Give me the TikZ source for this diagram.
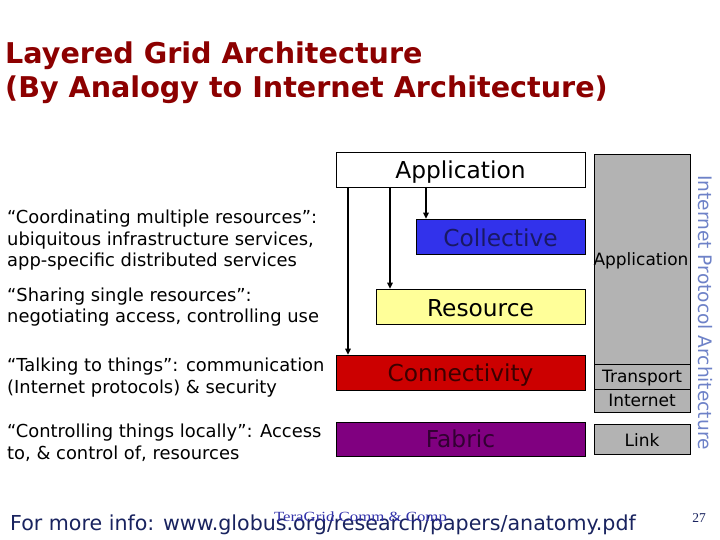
\documentclass[tikz,border=0pt]{standalone}
\usepackage{fontspec}
\setmainfont{DejaVu Sans}
\newfontfamily\serifft{Liberation Serif}
\usetikzlibrary{arrows.meta}
\definecolor{titlered}{RGB}{140,0,0}
\definecolor{colblue}{RGB}{50,50,235}
\definecolor{colbluetxt}{RGB}{25,25,100}
\definecolor{resyellow}{RGB}{255,255,153}
\definecolor{conred}{RGB}{204,0,0}
\definecolor{conredtxt}{RGB}{60,0,0}
\definecolor{fabpurple}{RGB}{128,0,128}
\definecolor{fabtxt}{RGB}{50,0,50}
\definecolor{ipgray}{RGB}{179,179,179}
\definecolor{vertblue}{RGB}{110,130,200}
\definecolor{footnavy}{RGB}{25,35,95}
\definecolor{tgblue}{RGB}{50,50,170}
\tikzset{
  layerbox/.style={draw=black, line width=0.6pt, inner sep=0pt},
  layertext/.style={anchor=base, inner sep=0pt, font=\fontsize{23.3}{26}\selectfont},
  iptext/.style={anchor=base, inner sep=0pt, font=\fontsize{17}{19}\selectfont, text=black},
  lefttext/.style={anchor=base west, align=left, inner sep=0pt, font=\fontsize{17.9}{21.5}\selectfont},
  arr/.style={-{Triangle[length=6pt,width=5.5pt]}, line width=1.3pt, shorten >=0.3pt}
}
\begin{document}
\begin{tikzpicture}[x=1pt,y=-1pt]
\useasboundingbox (0,0) rectangle (720,540);
\fill[white] (0,0) rectangle (720,540);
% title (anchor base = last line)
\node[anchor=base west, inner sep=0pt, text=titlered, font=\bfseries\fontsize{28.6}{34}\selectfont, align=left] (title) at (5,98)
  {Layered Grid Architecture\\(By Analogy to Internet Architecture)};
% layer boxes
\draw[layerbox, fill=white] (336,152) rectangle (585,187);
\node[layertext] (app) at (460.5,179) {Application};
\draw[layerbox, fill=colblue] (416,219) rectangle (585,254);
\node[layertext, text=colbluetxt] (coll) at (500.5,246.5) {Collective};
\draw[layerbox, fill=resyellow] (376,289) rectangle (585,324);
\node[layertext] (res) at (480.5,316.5) {Resource};
\draw[layerbox, fill=conred] (336,355) rectangle (585,390);
\node[layertext, text=conredtxt] (conn) at (460.5,381.5) {Connectivity};
\draw[layerbox, fill=fabpurple] (336,422) rectangle (585,456);
\node[layertext, text=fabtxt] (fab) at (460.5,447.5) {Fabric};
% arrows
\coordinate (a1) at (426,187); \coordinate (b1) at (426,219);
\coordinate (a2) at (390,187); \coordinate (b2) at (390,289);
\coordinate (a3) at (348,187); \coordinate (b3) at (348,355);
\draw[arr] (a1) -- (b1);
\draw[arr] (a2) -- (b2);
\draw[arr] (a3) -- (b3);
% IP stack
\draw[layerbox, fill=ipgray] (594,154) rectangle (690,364);
\node[iptext] (ipapp) at (641,265.5) {Application};
\draw[layerbox, fill=ipgray] (594,364) rectangle (690,389);
\node[iptext] (iptr) at (642,382.5) {Transport};
\draw[layerbox, fill=ipgray] (594,389) rectangle (690,412);
\node[iptext] (ipin) at (642,406) {Internet};
\draw[layerbox, fill=ipgray] (594,424) rectangle (690,454);
\node[iptext] (iplink) at (642,446) {Link};
\node[rotate=-90, anchor=base west, inner sep=0pt, text=vertblue, font=\fontsize{18.6}{20}\selectfont] (ipa) at (698,175) {Internet Protocol Architecture};
% left descriptions (anchor base = last line)
\node[lefttext] (d1) at (7,266.7) {“Coordinating multiple resources”:\\ubiquitous infrastructure services,\\app-specific distributed services};
\node[lefttext] (d2) at (7,322.7) {“Sharing single resources”:\\negotiating access, controlling use};
\node[lefttext] (d3) at (7,393.3) {“Talking to things”: communication\\(Internet protocols) \& security};
\node[lefttext] (d4) at (7,459.3) {“Controlling things locally”: Access\\to, \& control of, resources};
% footer
\node[anchor=base west, inner sep=0pt, text=footnavy, font=\fontsize{20.6}{22}\selectfont] (foot) at (10,530.5) {For more info: www.globus.org/research/papers/anatomy.pdf};
\node[anchor=base, inner sep=0pt, text=tgblue, font=\serifft\fontsize{14}{16}\selectfont] (tg) at (360.5,521.5) {\scalebox{1.2}[1]{TeraGrid Comm \& Comp}};
\node[anchor=base, inner sep=0pt, text=footnavy, font=\serifft\fontsize{13.5}{14}\selectfont] (pg) at (699,522.3) {27};
\end{tikzpicture}
\end{document}
